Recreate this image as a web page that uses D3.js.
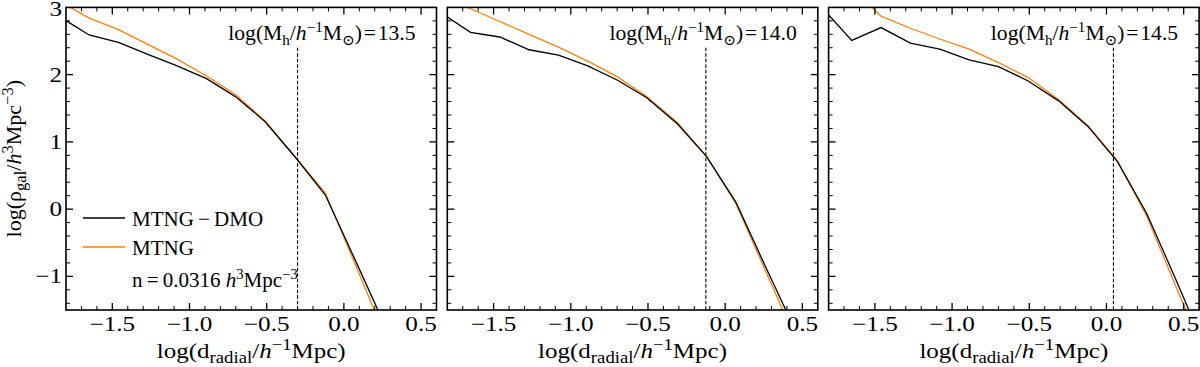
<!DOCTYPE html>
<meta charset="utf-8">
<head>
    <script type="text/javascript" src="https://cdn.jsdelivr.net/npm/d3@7"></script>
    <style>
        body { margin: 0; background: #fff; }
        text { font-family: "Liberation Serif", "DejaVu Serif", serif; fill: #000; }
    </style>
    <title>Galaxy radial density profiles</title>
</head>

<body>
    <div id="chart"></div>

    <script type="text/javascript">

        // radial bins, log(d_radial / h^-1 Mpc)
        var xBins = [-1.84, -1.65, -1.46, -1.27, -1.08, -0.89, -0.70, -0.51, -0.31, -0.12, 0.07, 0.26, 0.45, 0.64];

        // log(rho_gal) per halo mass bin
        var dmo135  = [2.86, 2.59, 2.48, 2.30, 2.13, 1.94, 1.67, 1.30, 0.76, 0.21, -0.74, -1.70, -2.70, -3.70];
        var mtng135 = [3.09, 2.84, 2.67, 2.45, 2.23, 1.98, 1.70, 1.31, 0.76, 0.24, -0.80, -1.85, -2.90, -3.90];
        var dmo140  = [2.92, 2.63, 2.56, 2.37, 2.29, 2.13, 1.92, 1.66, 1.27, 0.78, 0.10, -0.85, -1.78, -2.70];
        var mtng140 = [3.17, 2.98, 2.79, 2.60, 2.41, 2.20, 1.97, 1.68, 1.29, 0.78, 0.08, -0.91, -1.90, -2.90];
        var dmo145  = [2.99, 2.51, 2.70, 2.47, 2.38, 2.22, 2.12, 1.91, 1.61, 1.23, 0.71, -0.06, -1.05, -2.07];
        var mtng145 = [3.60, 3.28, 2.87, 2.69, 2.53, 2.38, 2.18, 1.96, 1.63, 1.24, 0.72, -0.10, -1.15, -2.20];

        var massLabels = ["13.5", "14.0", "14.5"];
        var vLines = [-0.30, -0.125, 0.045];   // dashed marker per panel
        var vLineTop = 2.4;

        var xTicks = [-1.5, -1.0, -0.5, 0.0, 0.5];
        var yTicks = [-1, 0, 1, 2, 3];

        var panels = [
            {dmo: dmo135, mtng: mtng135},
            {dmo: dmo140, mtng: mtng140},
            {dmo: dmo145, mtng: mtng145}
        ];

        var w = 1200;
        var h = 367;
        var left0 = 66, panelW = 370.5, step = 381.3;
        var plotTop = 7.4, plotBottom = 310;
        var fs = 21;
        var orange = "#ff7f0e";

        var svg = d3.select("#chart")
                    .append("svg")
                    .attr("width", w)
                    .attr("height", h);

        var y = d3.scaleLinear().domain([-1.5, 3]).range([plotBottom, plotTop]);

        // writes text with sub/superscripts as tspans
        function richText(sel, parts, size, subScale) {
            var shift = 0;
            subScale = subScale || 0.7;
            parts.forEach(function(p) {
                var target = p[1] === "sub" ? size * 0.25 : (p[1] === "sup" ? -size * 0.38 : 0);
                var ts = sel.append("tspan").attr("dy", target - shift).text(p[0]);
                if (p[1]) ts.style("font-size", (size * subScale) + "px");
                if (p[2]) ts.style("font-style", "italic");
                shift = target;
            });
        }

        // text placed with a slight horizontal stretch, like the original's wide serif
        function addText(g, tx, ty, anchor, sx, rot) {
            return g.append("text")
                .attr("transform", "translate(" + tx + "," + ty + ")" + (rot ? " rotate(" + rot + ")" : "") + " scale(" + sx + ",1)")
                .attr("text-anchor", anchor)
                .style("font-size", fs + "px");
        }

        panels.forEach(function(pd, i) {
            var x0 = left0 + i * step;
            var x = d3.scaleLinear().domain([-1.8, 0.6]).range([x0, x0 + panelW]);

            var g = svg.append("g");

            g.append("clipPath").attr("id", "clip" + i)
                .append("rect")
                .attr("x", x0).attr("y", plotTop)
                .attr("width", panelW).attr("height", plotBottom - plotTop);

            var line = d3.line()
                .x(function(d, k) { return x(xBins[k]); })
                .y(function(d) { return y(d); });

            // dashed marker
            g.append("line")
                .attr("x1", x(vLines[i])).attr("x2", x(vLines[i]))
                .attr("y1", y(vLineTop)).attr("y2", plotBottom)
                .attr("stroke", "#000")
                .attr("stroke-width", 1.1)
                .attr("stroke-dasharray", "3.5,2");

            var curves = g.append("g").attr("clip-path", "url(#clip" + i + ")");
            curves.append("path")
                .attr("d", line(pd.mtng))
                .attr("fill", "none")
                .attr("stroke", orange)
                .attr("stroke-width", 1.3);
            curves.append("path")
                .attr("d", line(pd.dmo))
                .attr("fill", "none")
                .attr("stroke", "#000")
                .attr("stroke-width", 1.3);

            // ticks on all four sides, pointing inward
            var xMinor = d3.range(-17, 6).map(function(v) { return v / 10; });
            var yMinor = d3.range(-7, 15).map(function(v) { return v / 5; });

            xMinor.forEach(function(v) {
                var major = Math.abs(v * 2 - Math.round(v * 2)) < 1e-6;
                var len = major ? 7 : 4;
                g.append("line").attr("x1", x(v)).attr("x2", x(v))
                    .attr("y1", plotBottom).attr("y2", plotBottom - len)
                    .attr("stroke", "#000").attr("stroke-width", major ? 1.3 : 1);
                g.append("line").attr("x1", x(v)).attr("x2", x(v))
                    .attr("y1", plotTop).attr("y2", plotTop + len)
                    .attr("stroke", "#000").attr("stroke-width", major ? 1.3 : 1);
            });
            yMinor.forEach(function(v) {
                var major = Math.abs(v - Math.round(v)) < 1e-6;
                var len = major ? 7 : 4;
                g.append("line").attr("x1", x0).attr("x2", x0 + len)
                    .attr("y1", y(v)).attr("y2", y(v))
                    .attr("stroke", "#000").attr("stroke-width", major ? 1.3 : 1);
                g.append("line").attr("x1", x0 + panelW).attr("x2", x0 + panelW - len)
                    .attr("y1", y(v)).attr("y2", y(v))
                    .attr("stroke", "#000").attr("stroke-width", major ? 1.3 : 1);
            });

            g.append("rect")
                .attr("x", x0).attr("y", plotTop)
                .attr("width", panelW).attr("height", plotBottom - plotTop)
                .attr("fill", "none")
                .attr("stroke", "#000")
                .attr("stroke-width", 1.6);

            xTicks.forEach(function(d) {
                addText(g, x(d), 331, "middle", 1.2).text(d3.format(".1f")(d));
            });

            var xl = addText(g, x0 + panelW / 2, 358, "middle", 1.19);
            richText(xl, [["log(d"], ["radial", "sub"], ["/"], ["h", null, true], ["\u22121", "sup"], ["Mpc)"]], fs, 0.75);

            var ml = addText(g, x0 + panelW - 21, 40, "end", 1.03);
            richText(ml, [["log(M"], ["h", "sub"], ["/"], ["h", null, true], ["\u22121", "sup"], ["M"], ["\u2299", "sub"], [")\u200a=\u200a" + massLabels[i]]], fs);

            if (i === 0) {
                yTicks.forEach(function(d) {
                    addText(g, x0 - 4, Math.max(y(d) + 7, 15.5), "end", 1.2).text(d3.format("d")(d));
                });

                var yl = addText(g, 21, (plotTop + plotBottom) / 2, "middle", 1.05, -90);
                richText(yl, [["log(\u03c1"], ["gal", "sub"], ["/"], ["h", null, true], ["3", "sup"], ["Mpc"], ["\u22123", "sup"], [")"]], fs, 0.75);

                // legend
                var legend = [{name: "MTNG\u2009\u2212\u2009DMO", color: "#000", yy: 218},
                              {name: "MTNG", color: orange, yy: 247}];
                legend.forEach(function(l) {
                    g.append("line")
                        .attr("x1", 83).attr("x2", 125)
                        .attr("y1", l.yy).attr("y2", l.yy)
                        .attr("stroke", l.color).attr("stroke-width", 1.3);
                    addText(g, 132, l.yy + 8, "start", 1).text(l.name);
                });
                var nl = addText(g, 132, 287, "start", 1);
                richText(nl, [["n\u2009=\u20090.0316 "], ["h", null, true], ["3", "sup"], ["Mpc"], ["\u22123", "sup"]], fs);
            }
        });

    </script>

</body>

</html>
